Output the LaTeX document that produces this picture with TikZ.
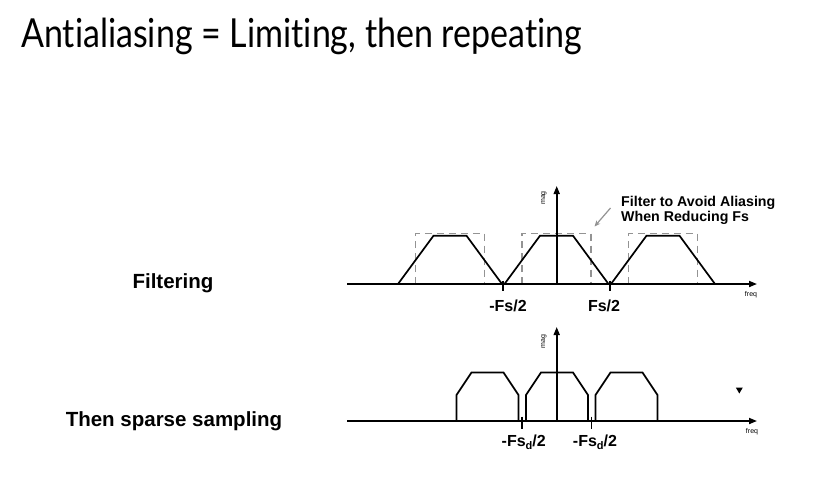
\documentclass[tikz,border=0pt]{standalone}
\usepackage{fontspec}
\setmainfont{Liberation Sans}
\newfontfamily\titlefont[Ligatures=NoCommon, FakeStretch=0.85]{Lato}
\usetikzlibrary{arrows.meta}
\tikzset{
  axisline/.style={line width=1.7pt, -{Triangle[length=8pt,width=6pt]}},
  trap/.style={line width=1.7pt, line join=miter},
  dashbox/.style={draw=gray!85, line width=1.6pt, dash pattern=on 7pt off 5pt},
  tickmark/.style={line width=1.7pt},
  lbl/.style={font=\bfseries\fontsize{16}{18}\selectfont, inner sep=0pt},
  side/.style={font=\bfseries\fontsize{20.5}{24}\selectfont, inner sep=0pt},
  ann/.style={font=\bfseries\fontsize{14.2}{16}\selectfont, inner sep=0pt},
  tinylbl/.style={font=\fontsize{7}{8}\selectfont, inner sep=0pt},
}
\newcommand\lowsub[1]{\raisebox{-0.3ex}{\fontsize{11}{12}\selectfont #1}}
\begin{document}
\begin{tikzpicture}[x=1pt,y=-1pt]
\useasboundingbox[fill=white] (0,0) rectangle (832,493);

% title
\node[anchor=base west, inner sep=0pt, font=\titlefont\fontsize{40}{48}\selectfont] (title) at (21,47.7) {Antialiasing = Limiting, then repeating};

% side labels
\node[side, anchor=base] (filt) at (173,288.3) {Filtering};
\node[side, anchor=base] (sparse) at (174,426.7) {Then sparse sampling};

% ---------- top plot ----------
\foreach \c in {450,556.5,663}{
  \draw[dashbox] (\c-34.5,284) -- (\c-34.5,233.3) -- (\c+34.5,233.3) -- (\c+34.5,284);
}
\foreach \c in {450,556.5,663}{
  \draw[trap] (\c-52,284) -- (\c-16.5,235.7) -- (\c+16.5,235.7) -- (\c+52,284);
}
\coordinate (tx0) at (347,284);
\coordinate (tx1) at (757,284);
\coordinate (ty0) at (556.7,284);
\coordinate (ty1) at (556.7,186);
\draw[axisline] (tx0) -- (tx1);
\draw[axisline] (ty0) -- (ty1);
\coordinate (tt1a) at (503.2,280.5); \coordinate (tt1b) at (503.2,291);
\coordinate (tt2a) at (609.8,280.5); \coordinate (tt2b) at (609.8,291);
\draw[tickmark] (tt1a) -- (tt1b);
\draw[tickmark] (tt2a) -- (tt2b);
\node[lbl, anchor=base] (mfs) at (508,311) {-Fs/2};
\node[lbl, anchor=base] (pfs) at (604,311) {Fs/2};
\node[tinylbl, rotate=90] (tmag) at (544,198) {mag};
\node[tinylbl] (tfreq) at (751,294.5) {freq};
\node[ann, anchor=base west] (ann1) at (621,206) {Filter to Avoid Aliasing};
\node[ann, anchor=base west] (ann2) at (621,221.7) {When Reducing Fs};
\coordinate (arrs) at (610.5,208);
\coordinate (arre) at (594.5,226.5);
\draw[draw=gray!85, line width=1.2pt, -{Stealth[length=6pt,width=5pt]}] (arrs) -- (arre);

% ---------- bottom plot ----------
\foreach \c in {487.5,557,626.5}{
  \draw[trap] (\c-31,421) -- (\c-31,395) -- (\c-16,372.5) -- (\c+16,372.5) -- (\c+31,395) -- (\c+31,421);
}
\coordinate (bx0) at (347,421);
\coordinate (bx1) at (757,421);
\coordinate (by0) at (556.7,421);
\coordinate (by1) at (556.7,327);
\draw[axisline] (bx0) -- (bx1);
\draw[axisline] (by0) -- (by1);
\coordinate (bt1a) at (522,416.5); \coordinate (bt1b) at (522,428.5);
\coordinate (bt2a) at (591.5,416.5); \coordinate (bt2b) at (591.5,428.5);
\draw[tickmark] (bt1a) -- (bt1b);
\draw[tickmark] (bt2a) -- (bt2b);
\node[lbl, anchor=base] (mfsd) at (523.7,446.5) {-Fs\lowsub{d}/2};
\node[lbl, anchor=base] (pfsd) at (595,446.5) {-Fs\lowsub{d}/2};
\node[tinylbl, rotate=90] (bmag) at (544,341.7) {mag};
\node[tinylbl] (bfreq) at (752,432) {freq};
\fill (735.8,387.5) -- (742.8,387.5) -- (739.3,393.5) -- cycle;
\end{tikzpicture}
\end{document}
